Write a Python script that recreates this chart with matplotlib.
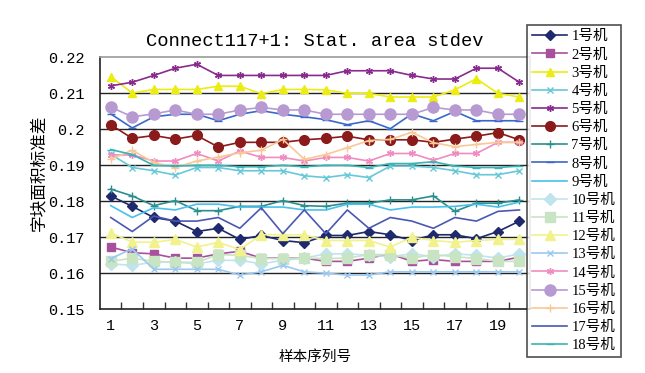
import matplotlib
matplotlib.use("Agg")
import matplotlib.pyplot as plt
import numpy as np

samples = list(range(1, 21))

m1 = [0.1815, 0.1786, 0.1755, 0.1745, 0.1716, 0.1725, 0.1694, 0.1705, 0.1691, 0.1685,
      0.1705, 0.1705, 0.1716, 0.1707, 0.1691, 0.1707, 0.1707, 0.1696, 0.1716, 0.1745]
m2 = [0.1673, 0.1657, 0.1654, 0.1642, 0.1642, 0.1654, 0.1661, 0.1642, 0.1642, 0.1642,
      0.1633, 0.1633, 0.1642, 0.1654, 0.1633, 0.1638, 0.1633, 0.1633, 0.1633, 0.1645]
m3 = [0.2147, 0.2101, 0.2111, 0.2111, 0.2111, 0.2120, 0.2120, 0.2099, 0.2111, 0.2111,
      0.2110, 0.2100, 0.2100, 0.2090, 0.2090, 0.2090, 0.2110, 0.2141, 0.2100, 0.2090]
m4 = [0.1931, 0.1894, 0.1885, 0.1873, 0.1894, 0.1894, 0.1885, 0.1885, 0.1885, 0.1871,
      0.1866, 0.1874, 0.1866, 0.1898, 0.1898, 0.1894, 0.1885, 0.1874, 0.1874, 0.1885]
m5 = [0.2121, 0.2131, 0.2150, 0.2170, 0.2181, 0.2150, 0.2150, 0.2150, 0.2150, 0.2150,
      0.2150, 0.2163, 0.2163, 0.2163, 0.2150, 0.2140, 0.2140, 0.2170, 0.2170, 0.2131]
m6 = [0.2013, 0.1975, 0.1983, 0.1973, 0.1983, 0.1951, 0.1964, 0.1964, 0.1964, 0.1971,
      0.1975, 0.1981, 0.1971, 0.1971, 0.1971, 0.1964, 0.1973, 0.1981, 0.1991, 0.1971]
m7 = [0.1834, 0.1815, 0.1788, 0.1802, 0.1774, 0.1774, 0.1786, 0.1786, 0.1802, 0.1788,
      0.1786, 0.1795, 0.1795, 0.1804, 0.1804, 0.1815, 0.1772, 0.1795, 0.1795, 0.1804]
m8 = [0.2043, 0.2004, 0.2035, 0.2042, 0.2042, 0.2024, 0.2042, 0.2052, 0.2042, 0.2035,
      0.2027, 0.2013, 0.2024, 0.2002, 0.2043, 0.2024, 0.2050, 0.2024, 0.2024, 0.2024]
m9 = [0.1788, 0.1755, 0.1782, 0.1776, 0.1792, 0.1792, 0.1784, 0.1784, 0.1784, 0.1776,
      0.1776, 0.1792, 0.1792, 0.1776, 0.1784, 0.1784, 0.1786, 0.1792, 0.1784, 0.1798]
m10 = [0.1626, 0.1622, 0.1631, 0.1631, 0.1626, 0.1636, 0.1636, 0.1626, 0.1636, 0.1642,
       0.1654, 0.1654, 0.1650, 0.1646, 0.1654, 0.1646, 0.1654, 0.1650, 0.1642, 0.1654]
m11 = [0.1633, 0.1642, 0.1633, 0.1631, 0.1630, 0.1652, 0.1650, 0.1641, 0.1641, 0.1642,
       0.1641, 0.1642, 0.1652, 0.1652, 0.1642, 0.1652, 0.1646, 0.1641, 0.1633, 0.1633]
m12 = [0.1712, 0.1687, 0.1686, 0.1694, 0.1673, 0.1686, 0.1666, 0.1707, 0.1707, 0.1707,
       0.1691, 0.1691, 0.1691, 0.1673, 0.1700, 0.1691, 0.1686, 0.1691, 0.1694, 0.1694]
m13 = [0.1641, 0.1668, 0.1611, 0.1611, 0.1611, 0.1611, 0.1595, 0.1604, 0.1622, 0.1604,
       0.1600, 0.1595, 0.1595, 0.1604, 0.1604, 0.1604, 0.1604, 0.1604, 0.1604, 0.1604]
m14 = [0.1929, 0.1929, 0.1912, 0.1912, 0.1933, 0.1912, 0.1940, 0.1922, 0.1922, 0.1912,
       0.1922, 0.1922, 0.1912, 0.1933, 0.1933, 0.1914, 0.1933, 0.1933, 0.1964, 0.1964]
m15 = [0.2062, 0.2035, 0.2043, 0.2054, 0.2042, 0.2042, 0.2054, 0.2061, 0.2054, 0.2054,
       0.2042, 0.2042, 0.2042, 0.2042, 0.2042, 0.2061, 0.2054, 0.2054, 0.2042, 0.2042]
m16 = [0.1917, 0.1942, 0.1908, 0.1894, 0.1912, 0.1923, 0.1935, 0.1942, 0.1972, 0.1917,
       0.1930, 0.1949, 0.1969, 0.1972, 0.1992, 0.1963, 0.1952, 0.1958, 0.1964, 0.1964]
m17 = [0.1755, 0.1716, 0.1759, 0.1745, 0.1745, 0.1755, 0.1725, 0.1782, 0.1710, 0.1776,
       0.1710, 0.1776, 0.1725, 0.1755, 0.1745, 0.1725, 0.1755, 0.1745, 0.1772, 0.1776]
m18 = [0.1944, 0.1930, 0.1900, 0.1898, 0.1900, 0.1900, 0.1896, 0.1896, 0.1900, 0.1896,
       0.1900, 0.1900, 0.1894, 0.1905, 0.1905, 0.1910, 0.1898, 0.1894, 0.1894, 0.1898]

series = [m1, m2, m3, m4, m5, m6, m7, m8, m9, m10, m11, m12, m13, m14, m15, m16, m17, m18]
labels = [f"{i}号机" for i in range(1, 19)]

star = (6, 2, 0)
styles = [
    ("#1f2a6e", "D", 5),
    ("#a8509c", "s", 6),
    ("#ecec10", "^", 6),
    ("#66c8d8", "x", 4),
    ("#8a2a8e", star, 5),
    ("#8b1a1a", "o", 7),
    ("#2a8f8f", "+", 6),
    ("#3a68c8", "_", 6),
    ("#48c0ea", None, 0),
    ("#bfe4ee", "D", 6),
    ("#c8e4c2", "s", 7),
    ("#f2f28c", "^", 7),
    ("#9cc8f0", "x", 4),
    ("#f08cc0", star, 5),
    ("#b89ad2", "o", 8),
    ("#f8c898", "+", 6),
    ("#4a58b4", None, 0),
    ("#3ab4b4", "_", 6),
]

fig = plt.figure(figsize=(6.45, 3.73), dpi=100)
ax = fig.add_axes([0.155, 0.171, 0.667, 0.675])

for ys, lab, (c, mk, ms) in zip(series, labels, styles):
    ax.plot(samples, ys, color=c, lw=1.2, marker=mk, markersize=ms,
            markeredgecolor=c, markerfacecolor=c, label=lab)

ax.set_xlim(0.5, 20.5)
ax.set_ylim(0.15, 0.22)
yt = [0.15, 0.16, 0.17, 0.18, 0.19, 0.2, 0.21, 0.22]
ax.set_yticks(yt)
ax.set_yticklabels([f"{v:g}" for v in yt], family="Liberation Mono", fontsize=11)
ax.set_xticks(list(range(1, 21, 2)))
ax.set_xticklabels([str(i) for i in range(1, 21, 2)], family="Liberation Mono", fontsize=11)
ax.set_xticks(np.arange(1.5, 20.5, 1), minor=True)
ax.tick_params(axis="x", which="major", length=0, pad=7)
ax.tick_params(axis="x", which="minor", direction="in", length=5, width=1, color="#333333")
ax.tick_params(axis="y", length=0, pad=11)
for v in yt[1:-1]:
    ax.axhline(v, color="#222222", lw=1, zorder=0)

ax.spines["top"].set_color("#999999")
ax.spines["right"].set_color("#999999")
ax.spines["left"].set_color("#222222")
ax.spines["bottom"].set_color("#222222")
for s in ax.spines.values():
    s.set_linewidth(1.2)

ax.set_title("Connect117+1: Stat. area stdev", family="Liberation Mono",
             fontsize=13.5, pad=8)
ax.set_ylabel("字块面积标准差", family=["Noto Sans CJK SC"], fontsize=12)
ax.yaxis.set_label_coords(-0.122, 0.54)
ax.set_xlabel("样本序列号", family=["Noto Sans CJK SC"], fontsize=10.5, labelpad=12)

leg = fig.legend(loc="upper left", bbox_to_anchor=(0.817, 0.933),
                 prop={"family": ["Liberation Serif", "Noto Sans CJK SC"], "size": 10.5},
                 frameon=True, fancybox=False, edgecolor="#222222",
                 handlelength=2.4, labelspacing=0.34, borderpad=0.35,
                 handletextpad=0.3, borderaxespad=0)
leg.get_frame().set_linewidth(1.2)

fig.savefig("out.png", dpi=100)
